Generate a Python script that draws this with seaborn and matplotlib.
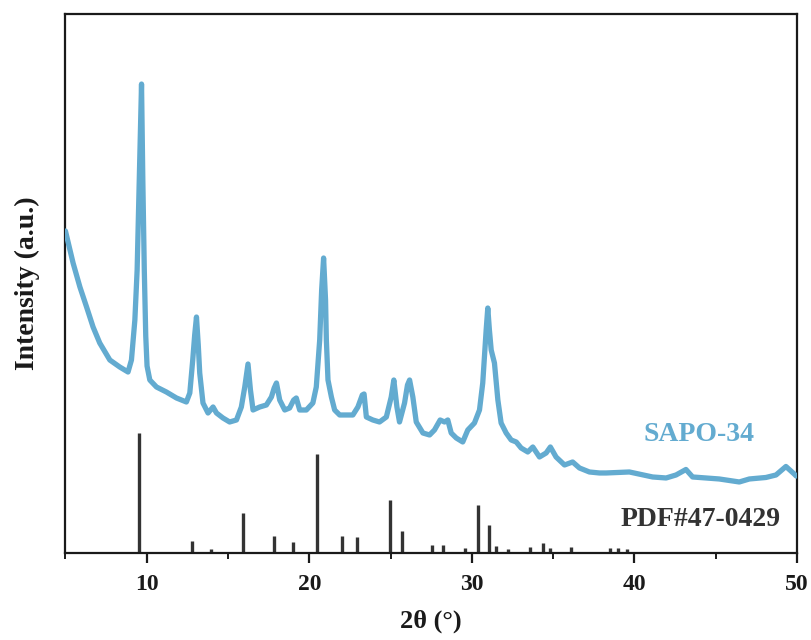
import matplotlib
matplotlib.use("Agg")
import matplotlib.pyplot as plt
from matplotlib.ticker import MultipleLocator
import seaborn as sns
import pandas as pd

# Measured SAPO-34 diffraction pattern (2θ in degrees, intensity in a.u.)
two_theta = [
    5.00, 5.47, 5.89, 6.30, 6.70, 7.11, 7.73, 8.34, 8.85, 9.06, 9.27, 9.41,
    9.54, 9.68, 9.76, 9.85, 9.94, 10.02, 10.19, 10.60, 11.21, 11.83, 12.44,
    12.65, 12.83, 12.95, 13.06, 13.17, 13.26, 13.46, 13.77, 14.08, 14.29,
    14.69, 15.10, 15.52, 15.82, 16.03, 16.23, 16.38, 16.54, 16.95, 17.36,
    17.67, 17.84, 17.98, 18.18, 18.49, 18.79, 19.04, 19.20, 19.41, 19.82,
    20.22, 20.43, 20.64, 20.76, 20.88, 21.00, 21.05, 21.15, 21.36, 21.56,
    21.87, 22.28, 22.68, 22.99, 23.26, 23.37, 23.51, 23.91, 24.32, 24.74,
    25.04, 25.20, 25.39, 25.55, 25.86, 26.04, 26.17, 26.37, 26.58, 26.99,
    27.40, 27.70, 28.05, 28.32, 28.52, 28.73, 29.04, 29.44, 29.75, 30.16,
    30.47, 30.67, 30.88, 30.98, 31.08, 31.19, 31.39, 31.60, 31.80, 32.11,
    32.42, 32.73, 33.03, 33.44, 33.75, 34.16, 34.57, 34.83, 35.18, 35.70,
    36.20, 36.62, 37.23, 37.85, 38.26, 39.69, 41.12, 41.95, 42.56, 43.17,
    43.58, 44.40, 45.22, 46.45, 47.07, 48.09, 48.71, 49.32, 49.83, 49.95,
]
intensity = [
    322, 290, 266, 246, 226, 210, 193, 186, 181, 193, 233, 283,
    373, 469, 373, 283, 217, 187, 173, 166, 161, 155, 151,
    160, 193, 218, 236, 208, 180, 150, 140, 146, 140,
    135, 131, 133, 146, 166, 189, 163, 143, 146, 148,
    156, 165, 170, 153, 143, 145, 153, 155, 143, 143,
    150, 166, 213, 263, 295, 253, 213, 173, 156, 143,
    138, 138, 138, 146, 158, 159, 136, 133, 131, 136,
    156, 173, 146, 131, 150, 168, 173, 156, 131, 120,
    118, 123, 133, 131, 133, 120, 115, 111, 123, 130,
    143, 170, 223, 245, 223, 203, 190, 153, 130, 120,
    113, 111, 105, 101, 106, 96, 100, 106, 96, 88,
    91, 85, 81, 80, 80, 81, 76, 75, 78, 83.5,
    76, 75, 74, 71, 74, 75.5, 78, 86.5, 79, 77,
]

# Reference card PDF#47-0429 (2θ positions and relative intensities)
pdf_two_theta = [
    9.51, 12.77, 13.97, 15.92, 17.80, 19.01, 20.46, 22.02, 22.96, 24.99,
    25.72, 27.53, 28.20, 29.58, 30.39, 31.03, 31.50, 32.22, 33.59, 34.37,
    34.80, 36.11, 38.49, 39.01, 39.57,
]
pdf_rel_intensity = [
    100, 10, 3.5, 33, 14, 9.5, 82.5, 14.5, 13, 44,
    18, 7, 7, 4.5, 40, 23, 6, 3, 5, 8,
    4, 5, 4.5, 4.5, 3.5,
]

sample_label = "SAPO-34"
card_label = "PDF#47-0429"
x_ticks = [10, 20, 30, 40, 50]

sns.set_theme(style="ticks")
plt.rcParams["font.family"] = ["Liberation Serif", "DejaVu Serif"]
plt.rcParams["font.weight"] = "bold"

curve_color = "#63abd0"
stick_color = "#333333"
axis_color = "#1a1a1a"

fig = plt.figure(figsize=(8.12, 6.4), dpi=100)
ax = fig.add_axes([0.0806, 0.136, 0.9009, 0.842])

df = pd.DataFrame({"two_theta": two_theta, "intensity": intensity})
sns.lineplot(data=df, x="two_theta", y="intensity", color=curve_color,
             linewidth=3.8, ax=ax, zorder=3)

stick_scale = 1.2
ax.vlines(pdf_two_theta, 0, [v * stick_scale for v in pdf_rel_intensity],
          colors=stick_color, linewidth=2.4, zorder=2)

ax.set_xlim(5, 50)
ax.set_ylim(0, 539)
ax.set_xticks(x_ticks)
ax.xaxis.set_minor_locator(MultipleLocator(5))
ax.set_yticks([])

ax.tick_params(axis="x", which="major", direction="out", length=7, width=1.6,
               labelsize=17, pad=8, colors=axis_color)
ax.tick_params(axis="x", which="minor", direction="out", length=4, width=1.4,
               colors=axis_color)
for lab in ax.get_xticklabels():
    lab.set_fontweight("bold")

for side in ["left", "right", "top", "bottom"]:
    ax.spines[side].set_visible(True)
    ax.spines[side].set_linewidth(1.6)
    ax.spines[side].set_color(axis_color)

ax.set_xlabel("2θ (°)", fontsize=19, fontweight="bold", labelpad=11,
              color=axis_color)
ax.set_ylabel("Intensity (a.u.)", fontsize=20, fontweight="bold", labelpad=18,
              color=axis_color)

ax.text(44.0, 118, sample_label, color=curve_color, fontsize=20,
        fontweight="bold", ha="center", va="center")
ax.text(44.1, 33, card_label, color="#333333", fontsize=20,
        fontweight="bold", ha="center", va="center")

fig.savefig("out.png", dpi=100, facecolor="white")
